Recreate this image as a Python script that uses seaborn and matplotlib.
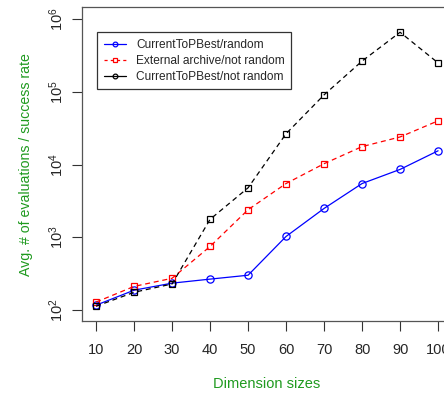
import matplotlib
matplotlib.use("Agg")
import matplotlib.pyplot as plt
from matplotlib.lines import Line2D
import seaborn as sns
import pandas as pd

dims = [10, 20, 30, 40, 50, 60, 70, 80, 90, 100]
current_random = [117, 188, 235, 267, 302, 1030, 2500, 5500, 8600, 15500]
archive_not_random = [129, 212, 274, 750, 2400, 5500, 10300, 17700, 24000, 40000]
current_not_random = [113, 176, 229, 1770, 4800, 26600, 91000, 265000, 660000, 250000]
labels = ["CurrentToPBest/random", "External archive/not random", "CurrentToPBest/not random"]
yticks = [1e2, 1e3, 1e4, 1e5, 1e6]
ytick_labels = [r"$10^{2}$", r"$10^{3}$", r"$10^{4}$", r"$10^{5}$", r"$10^{6}$"]

sns.set_style("ticks")
plt.rcParams['font.family'] = ['Liberation Sans', 'DejaVu Sans']
plt.rcParams['mathtext.fontset'] = 'custom'
plt.rcParams['mathtext.rm'] = 'Liberation Sans'
plt.rcParams['mathtext.it'] = 'Liberation Sans'

fig = plt.figure(figsize=(4.44, 3.95), dpi=100)
ax = fig.add_axes([0.1855, 0.187, 0.832, 0.795])

green = "#1f9a1f"
ms_c = 5.2
ms_s = 4.6

sns.lineplot(x=dims, y=current_random, ax=ax, color="#0000ff", linestyle="-", lw=0.9,
             marker="o", markersize=ms_c, markerfacecolor="none", markeredgecolor="#0000ff",
             markeredgewidth=0.9, legend=False)
sns.lineplot(x=dims, y=archive_not_random, ax=ax, color="#ff0000", linestyle=(0, (4, 3)), lw=0.9,
             marker="s", markersize=ms_s, markerfacecolor="none", markeredgecolor="#ff0000",
             markeredgewidth=0.9, legend=False)
sns.lineplot(x=dims, y=current_not_random, ax=ax, color="black", linestyle=(0, (4, 3)), lw=0.9,
             marker="s", markersize=ms_s, markerfacecolor="none", markeredgecolor="black",
             markeredgewidth=0.9, legend=False)

ax.set_yscale("log")
ax.set_xlim(6.4, 103.6)
ax.set_ylim(10**1.849, 10**6.165)
ax.set_xticks(dims)
ax.set_xticklabels([str(d) for d in dims], fontsize=10.5)
ax.set_yticks(yticks)
ax.set_yticklabels(ytick_labels, fontsize=10.5, rotation=90, va="center")
ax.minorticks_off()
ax.tick_params(axis="both", direction="out", length=7, width=0.8, color="#333333")
ax.tick_params(axis="x", pad=9)
ax.tick_params(axis="y", pad=5)
for s in ax.spines.values():
    s.set_linewidth(0.9)
    s.set_color("#555555")
ax.set_xlabel("Dimension sizes", color=green, fontsize=10.5, labelpad=14)
ax.set_ylabel("Avg. # of evaluations / success rate", color=green, fontsize=10.2, labelpad=10)

ms_leg = 3.4
handles = [
    Line2D([], [], color="#0000ff", ls="-", lw=0.9, marker="o", markersize=ms_leg,
           markerfacecolor="none", markeredgewidth=0.9),
    Line2D([], [], color="#ff0000", ls=(0, (2.5, 2.5)), lw=0.9, marker="s", markersize=ms_leg,
           markerfacecolor="none", markeredgewidth=0.9),
    Line2D([], [], color="black", ls="-", lw=0.9, marker="o", markersize=ms_leg,
           markerfacecolor="none", markeredgewidth=0.9),
]
leg = ax.legend(handles, labels, loc="upper left", bbox_to_anchor=(0.040, 0.920),
                fontsize=8.6, frameon=True, fancybox=False, borderpad=0.55,
                labelspacing=0.33, handlelength=1.9, handletextpad=0.8, borderaxespad=0)
leg.get_frame().set_edgecolor("black")
leg.get_frame().set_linewidth(0.9)

fig.savefig("out.png", dpi=100)
